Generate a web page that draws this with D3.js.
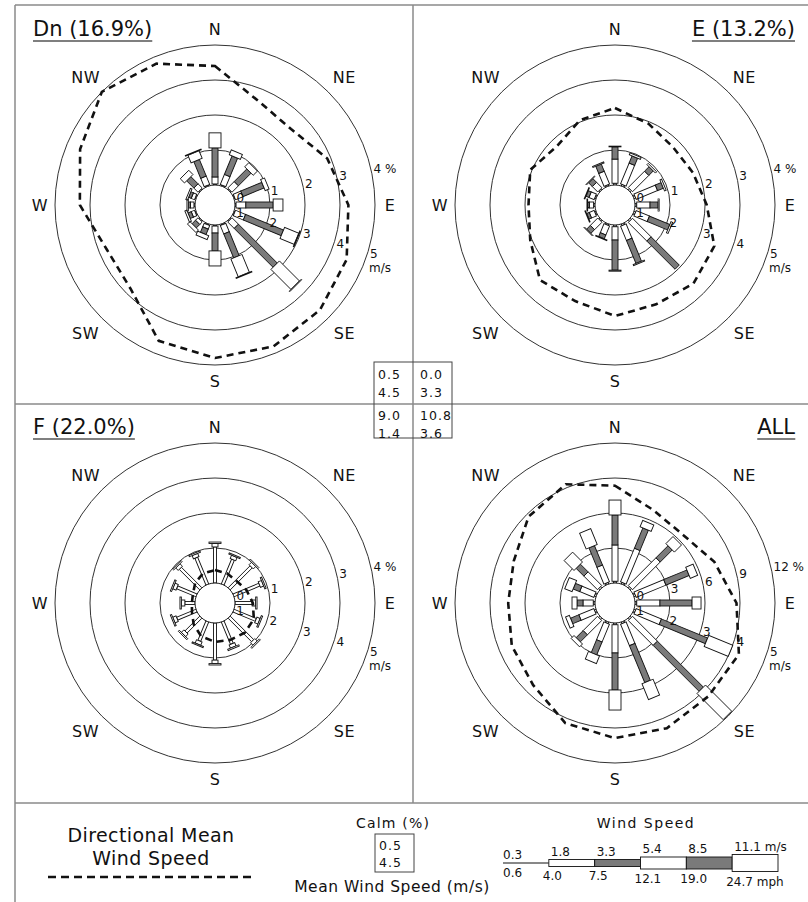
<!DOCTYPE html>
<html>
<head>
<meta charset="utf-8">
<script src="https://cdn.jsdelivr.net/npm/d3@7"></script>
<style>
  body { margin: 0; background: #fff; }
  svg text { font-family: "DejaVu Sans", sans-serif; fill: #111; }
</style>
</head>
<body>
<div id="chart"></div>
<script>
// 16 wind directions, clockwise from north
var directions = ["N", "NNE", "NE", "ENE", "E", "ESE", "SE", "SSE",
  "S", "SSW", "SW", "WSW", "W", "WNW", "NW", "NNW"];
var compass = ["N", "NE", "E", "SE", "S", "SW", "W", "NW"];

// speed classes (m/s): 0.3-1.8, 1.8-3.3, 3.3-5.4, 5.4-8.5, 8.5-11.1, >11.1
var speedClasses = ["0.3-1.8", "1.8-3.3", "3.3-5.4", "5.4-8.5", "8.5-11.1", ">11.1"];

// frequency (%) per direction, one column per speed class
var dnFreq = [
  [0.03, 0.20, 0.83, 0.43, 0, 0], [0.03, 0.31, 0.57, 0.15, 0, 0],
  [0.03, 0.26, 0.51, 0.17, 0, 0], [0.03, 0.23, 0.65, 0.12, 0, 0],
  [0.03, 0.28, 0.78, 0.28, 0, 0], [0.03, 0.31, 1.17, 0.44, 0, 0.02],
  [0.03, 0.26, 1.57, 0.81, 0, 0.02], [0.03, 0.26, 0.74, 0.55, 0, 0.02],
  [0.03, 0.20, 0.51, 0.43, 0, 0], [0.03, 0.11, 0.17, 0.12, 0, 0],
  [0.03, 0.10, 0.14, 0.10, 0, 0], [0.03, 0.10, 0.10, 0.06, 0, 0],
  [0.03, 0.10, 0.06, 0.04, 0, 0], [0.03, 0.10, 0.08, 0.05, 0, 0],
  [0.03, 0.17, 0.29, 0.17, 0, 0], [0.03, 0.26, 0.51, 0.24, 0, 0.02]
];
var eFreq = [
  [0.05, 0.69, 0.35, 0.02, 0, 0], [0.05, 0.64, 0.22, 0.06, 0, 0],
  [0.05, 0.66, 0.18, 0.05, 0, 0], [0.05, 0.66, 0.18, 0.05, 0, 0],
  [0.05, 0.38, 0.23, 0.03, 0, 0], [0.05, 0.41, 0.63, 0.05, 0, 0],
  [0.05, 0.75, 1.14, 0, 0, 0], [0.05, 0.44, 0.71, 0.03, 0, 0],
  [0.05, 0.38, 0.86, 0.03, 0, 0], [0.04, 0.28, 0.12, 0.02, 0, 0],
  [0.04, 0.30, 0.15, 0.02, 0, 0], [0.04, 0.15, 0.08, 0.02, 0, 0],
  [0.04, 0.12, 0.05, 0.02, 0, 0], [0.04, 0.16, 0.09, 0.02, 0, 0],
  [0.04, 0.22, 0.15, 0.02, 0, 0], [0.04, 0.40, 0.22, 0.03, 0, 0]
];
var fFreq = [
  [1.03, 0.10, 0, 0.04, 0, 0], [0.77, 0.10, 0, 0.04, 0, 0],
  [0.89, 0.10, 0, 0.04, 0, 0], [0.80, 0.10, 0, 0.04, 0, 0],
  [0.49, 0.10, 0, 0.04, 0, 0], [0.69, 0.10, 0, 0.04, 0, 0],
  [0.95, 0.10, 0, 0.04, 0, 0], [0.69, 0.10, 0, 0.04, 0, 0],
  [1.06, 0.10, 0, 0.04, 0, 0], [0.60, 0.10, 0, 0.04, 0, 0],
  [0.60, 0.10, 0, 0.04, 0, 0], [0.60, 0.10, 0, 0.04, 0, 0],
  [0.29, 0.10, 0, 0.04, 0, 0], [0.60, 0.10, 0, 0.04, 0, 0],
  [0.83, 0.10, 0, 0.04, 0, 0], [0.83, 0.10, 0, 0.04, 0, 0]
];
var allFreq = [
  [0.15, 3.11, 2.57, 1.28, 0, 0], [0.15, 3.11, 1.88, 0.60, 0, 0],
  [0.15, 3.36, 1.46, 0.86, 0, 0], [0.15, 2.76, 2.15, 0.68, 0, 0],
  [0.15, 1.99, 2.75, 0.77, 0, 0], [0.15, 2.34, 4.28, 2.23, 0, 0],
  [0.15, 3.02, 5.57, 3.17, 0, 0], [0.15, 1.99, 3.43, 1.46, 0, 0],
  [0.15, 2.42, 3.17, 1.72, 0, 0], [0.15, 1.65, 1.20, 0.69, 0, 0],
  [0.15, 1.74, 0.85, 0.35, 0, 0], [0.15, 1.39, 0.77, 0.35, 0, 0],
  [0.15, 0.88, 0.51, 0.43, 0, 0], [0.15, 1.31, 0.60, 0.68, 0, 0],
  [0.15, 1.65, 0.94, 1.20, 0, 0], [0.15, 1.56, 1.80, 1.46, 0, 0]
];

// directional mean wind speed (m/s)
var dnSpeed = [4.4, 3.65, 3.5, 3.9, 4.24, 4.5, 4.67, 4.8, 4.8, 4.63, 3.83, 3.77, 4.29, 4.6, 5.0, 4.8];
var eSpeed = [3.2, 2.94, 2.77, 2.84, 3.05, 3.5, 3.6, 3.5, 3.6, 3.4, 3.46, 3.05, 2.9, 3.05, 2.79, 3.05];
var fSpeed = [1.37, 1.34, 1.31, 1.4, 1.51, 1.63, 1.63, 1.57, 1.54, 1.46, 1.29, 1.14, 1.09, 1.11, 1.23, 1.34];
var allSpeed = [3.78, 3.3, 3.18, 3.5, 3.9, 4.26, 4.2, 4.3, 4.29, 4.14, 3.74, 3.62, 3.48, 3.56, 3.92, 4.1];

// calm (%) and mean wind speed (m/s): Dn, E, F, ALL
var calmPct = [0.5, 0.0, 9.0, 10.8];
var calmMean = [4.5, 3.3, 1.4, 3.6];

// ring tick labels
var pctTicks = [0, 1, 2, 3, 4];
var pctTicksAll = [0, 3, 6, 9, 12];
var speedTicks = [1, 2, 3, 4, 5];

// legend labels
var legendMs = ["0.3", "1.8", "3.3", "5.4", "8.5", "11.1  m/s"];
var legendMph = ["0.6", "4.0", "7.5", "12.1", "19.0", "24.7  mph"];

var classWidth = [3, 6, 6, 12, 12, 17];
var classFill = ["#fff", "#fff", "#7a7a7a", "#fff", "#7a7a7a", "#fff"];

var svg = d3.select("#chart").append("svg")
  .attr("width", 808).attr("height", 902);

// frame lines
var frame = [[15, 5, 15, 902], [15, 5, 808, 5], [413, 5, 413, 803], [15, 404, 808, 404], [15, 803, 808, 803]];
svg.selectAll(".frame").data(frame).enter().append("line")
  .attr("x1", d => d[0]).attr("y1", d => d[1]).attr("x2", d => d[2]).attr("y2", d => d[3])
  .attr("stroke", "#8a8a8a").attr("stroke-width", 1.5);

var panels = [
  { title: "Dn (16.9%)", freq: dnFreq, speed: dnSpeed, ticks: pctTicks, cx: 215, cy: 205, tx: 33, anchor: "start" },
  { title: "E (13.2%)", freq: eFreq, speed: eSpeed, ticks: pctTicks, cx: 615, cy: 205, tx: 795, anchor: "end" },
  { title: "F (22.0%)", freq: fFreq, speed: fSpeed, ticks: pctTicks, cx: 215, cy: 603, tx: 33, anchor: "start" },
  { title: "ALL", freq: allFreq, speed: allSpeed, ticks: pctTicksAll, cx: 615, cy: 603, tx: 795, anchor: "end" }
];

var ang = d3.scalePoint().domain(directions).range([0, 337.5]);
var rad = Math.PI / 180;

function drawRose(p) {
  var g = svg.append("g").attr("transform", "translate(" + p.cx + "," + p.cy + ")");
  var maxPct = p.ticks[p.ticks.length - 1];
  var r = d3.scaleLinear().domain([0, maxPct]).range([20, 160]);
  var rs = d3.scaleLinear().domain([1, 5]).range([20, 160]);

  // rings
  g.selectAll(".ring").data(p.ticks.slice(1)).enter().append("circle")
    .attr("r", d => r(d)).attr("fill", "none")
    .attr("stroke", "#333").attr("stroke-width", 1);

  // stacked bars
  directions.forEach(function (dir, i) {
    var cum = 0;
    var segs = p.freq[i].map(function (v, k) {
      var s = { k: k, r0: r(cum), r1: r(cum + v) };
      cum += v;
      return s;
    }).filter(s => s.r1 > s.r0);
    g.append("g").attr("transform", "rotate(" + ang(dir) + ")")
      .selectAll("rect").data(segs).enter().append("rect")
      .attr("x", s => -classWidth[s.k] / 2)
      .attr("y", s => -s.r1)
      .attr("width", s => classWidth[s.k])
      .attr("height", s => s.r1 - s.r0)
      .attr("fill", s => classFill[s.k])
      .attr("stroke", "#111").attr("stroke-width", 0.9);
  });

  // calm circle
  g.append("circle").attr("r", r(0)).attr("fill", "#fff")
    .attr("stroke", "#222").attr("stroke-width", 1);

  // directional mean wind speed
  var line = d3.lineRadial()
    .angle((d, i) => ang(directions[i]) * rad)
    .radius(d => rs(d))
    .curve(d3.curveLinearClosed);
  g.append("path").datum(p.speed).attr("d", line)
    .attr("fill", "none").attr("stroke", "#111")
    .attr("stroke-width", 2.6).attr("stroke-dasharray", "7,5");

  // frequency ring labels
  var a1 = 78 * rad;
  g.selectAll(".pl").data(p.ticks).enter().append("text")
    .attr("x", d => r(d) * Math.sin(a1) + 2)
    .attr("y", d => -r(d) * Math.cos(a1) - 3)
    .attr("dy", "0.35em").style("font-size", "12px")
    .text((d, i) => i === p.ticks.length - 1 ? d + "  %" : d);

  // speed ring labels
  var a2 = 107 * rad;
  g.selectAll(".sl").data(speedTicks).enter().append("text")
    .attr("x", d => rs(d) * Math.sin(a2) + 2)
    .attr("y", d => -rs(d) * Math.cos(a2) + 2)
    .attr("dy", "0.35em").style("font-size", "12px")
    .text(d => d);
  g.append("text")
    .attr("x", rs(5) * Math.sin(a2) + 1)
    .attr("y", -rs(5) * Math.cos(a2) + 16)
    .attr("dy", "0.35em").style("font-size", "12px")
    .text("m/s");

  // compass labels
  g.selectAll(".cl").data(compass).enter().append("text")
    .attr("x", (d, j) => (j % 2 ? 183 : 175) * Math.sin(j * 45 * rad))
    .attr("y", (d, j) => -(j % 2 ? 181 : 176) * Math.cos(j * 45 * rad))
    .attr("dy", "0.36em").attr("text-anchor", "middle")
    .style("font-size", "16px").style("letter-spacing", "0.5px")
    .text(d => d);

  // title with underline
  var t = svg.append("text")
    .attr("x", p.tx).attr("y", p.cy - 169)
    .attr("text-anchor", p.anchor)
    .style("font-size", "21px")
    .text(p.title);
  var bb = t.node().getBBox();
  svg.append("line")
    .attr("x1", bb.x).attr("x2", bb.x + bb.width)
    .attr("y1", p.cy - 164).attr("y2", p.cy - 164)
    .attr("stroke", "#555").attr("stroke-width", 1.5);
}

panels.forEach(drawRose);

// calm / mean speed table at the centre
svg.append("rect").attr("x", 374).attr("y", 362).attr("width", 78).attr("height", 76)
  .attr("fill", "none").attr("stroke", "#444").attr("stroke-width", 1);
var cellX = [378, 420, 378, 420];
var cellY = [375, 375, 416, 416];
var fmt = d3.format(".1f");
calmPct.forEach(function (c, i) {
  svg.append("text").attr("x", cellX[i]).attr("y", cellY[i]).attr("dy", "0.35em")
    .style("font-size", "12.5px").style("letter-spacing", "1px").text(fmt(c));
  svg.append("text").attr("x", cellX[i]).attr("y", cellY[i] + 18).attr("dy", "0.35em")
    .style("font-size", "12.5px").style("letter-spacing", "1px").text(fmt(calmMean[i]));
});

// ---- legend ----
svg.append("text").attr("x", 151).attr("y", 835).attr("dy", "0.35em")
  .attr("text-anchor", "middle").style("font-size", "19px").style("letter-spacing", "0.4px")
  .text("Directional Mean");
svg.append("text").attr("x", 151).attr("y", 858).attr("dy", "0.35em")
  .attr("text-anchor", "middle").style("font-size", "19px").style("letter-spacing", "0.4px")
  .text("Wind Speed");
svg.append("line").attr("x1", 48).attr("x2", 252).attr("y1", 877).attr("y2", 877)
  .attr("stroke", "#111").attr("stroke-width", 2.6).attr("stroke-dasharray", "8,5");

svg.append("text").attr("x", 393).attr("y", 823).attr("dy", "0.35em")
  .attr("text-anchor", "middle").style("font-size", "14px").style("letter-spacing", "1.2px").text("Calm (%)");
svg.append("rect").attr("x", 375).attr("y", 834).attr("width", 39).attr("height", 38)
  .attr("fill", "none").attr("stroke", "#444").attr("stroke-width", 1);
svg.append("text").attr("x", 379).attr("y", 846).attr("dy", "0.35em")
  .style("font-size", "12.5px").style("letter-spacing", "1px").text(fmt(calmPct[0]));
svg.append("text").attr("x", 379).attr("y", 863).attr("dy", "0.35em")
  .style("font-size", "12.5px").style("letter-spacing", "1px").text(fmt(calmMean[0]));
svg.append("text").attr("x", 392).attr("y", 887).attr("dy", "0.35em")
  .attr("text-anchor", "middle").style("font-size", "15.5px").style("letter-spacing", "0.5px")
  .text("Mean Wind Speed (m/s)");

svg.append("text").attr("x", 646).attr("y", 823).attr("dy", "0.35em")
  .attr("text-anchor", "middle").style("font-size", "14px").style("letter-spacing", "1.5px").text("Wind Speed");

var sx = d3.scaleLinear().domain([0, 6]).range([503, 778]);
var barY = 863;
speedClasses.forEach(function (c, k) {
  if (k === 0) {
    svg.append("line").attr("x1", sx(0)).attr("x2", sx(1)).attr("y1", barY).attr("y2", barY)
      .attr("stroke", "#111").attr("stroke-width", 1);
  } else {
    var h = classWidth[k] + (k < 3 ? 1 : 0);
    svg.append("rect").attr("x", sx(k)).attr("y", barY - h / 2)
      .attr("width", sx(k + 1) - sx(k)).attr("height", h)
      .attr("fill", classFill[k]).attr("stroke", "#111").attr("stroke-width", 0.9);
  }
});
legendMs.forEach(function (t, k) {
  var h = k === 0 ? 0 : classWidth[k];
  svg.append("text").attr("x", sx(k) + (k === 0 ? 0 : 2)).attr("y", barY - h / 2 - 8).attr("dy", "0.35em")
    .style("font-size", "12px").text(t);
});
legendMph.forEach(function (t, k) {
  var h = k === 0 ? 0 : classWidth[k];
  svg.append("text").attr("x", sx(k) - (k === 0 ? 0 : 6)).attr("y", barY + h / 2 + 10).attr("dy", "0.35em")
    .style("font-size", "12px").text(t);
});
</script>
</body>
</html>
